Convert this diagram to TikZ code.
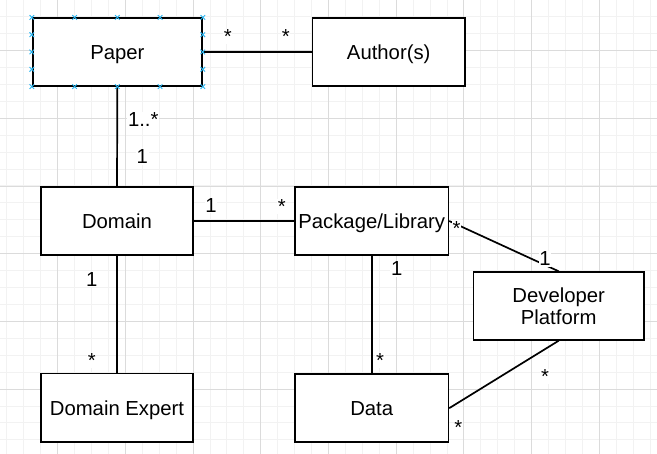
\documentclass[tikz,border=0pt]{standalone}
\usepackage{fontspec}
\setmainfont{Liberation Sans}
\usetikzlibrary{calc}
\definecolor{selblue}{RGB}{41,182,242}
\begin{document}
\begin{tikzpicture}[x=1pt,y=-1pt,
  box/.style={draw=black,line width=1.7pt,fill=white,inner sep=0pt,align=center,
    font=\fontsize{20.3}{21.7}\selectfont,text height=14.5pt,text depth=0pt},
  conn/.style={draw=black,line width=1.7pt},
  lbl/.style={fill=white,inner sep=0.8pt,anchor=base,font=\fontsize{20.3}{22}\selectfont},
  selmark/.style={draw=selblue,line width=0.9pt}
]
\useasboundingbox (0,0) rectangle (657,454);
% grid
\foreach \i in {0,...,39} {
  \draw[black!5,line width=0.9pt] ({6.8+16.93*\i},0) -- ({6.8+16.93*\i},454);
}
\foreach \i in {0,...,26} {
  \draw[black!5,line width=0.9pt] (0,{16.6+16.93*\i}) -- (657,{16.6+16.93*\i});
}
\foreach \i in {0,...,9} {
  \draw[black!14,line width=0.9pt] ({57.6+67.7*\i},0) -- ({57.6+67.7*\i},454);
}
\foreach \i in {0,...,6} {
  \draw[black!14,line width=0.9pt] (0,{50.5+67.8*\i}) -- (657,{50.5+67.8*\i});
}
% boxes
\node[box,minimum width=169.3pt,minimum height=67.4pt] (paper) at (117.35,52) {Paper};
\node[box,minimum width=152.7pt,minimum height=67.4pt] (author) at (388.7,52) {Author(s)};
\node[box,minimum width=152.6pt,minimum height=67.7pt] (domain) at (117,221) {Domain};
\node[box,minimum width=152.6pt,minimum height=68.5pt] (expert) at (117,407.8) {Domain Expert};
\node[box,minimum width=153.3pt,minimum height=67.7pt] (package) at (371.7,221) {Package/Library};
\node[box,minimum width=153.3pt,minimum height=67.7pt] (data) at (371.7,408.2) {Data};
\node[box,minimum width=170.7pt,minimum height=67.7pt,text height=36.2pt] (dev) at (558.7,306) {Developer\\Platform};
% connectors
\draw[conn] (paper.east) -- (author.west);
\draw[conn] (paper.south) -- (domain.north);
\draw[conn] (domain.east) -- (package.west);
\draw[conn] (domain.south) -- (expert.north);
\draw[conn] (package.south) -- (data.north);
\draw[conn] (package.east) -- (dev.north);
\draw[conn] (data.east) -- (dev.south);
% labels
\node[lbl] (l1) at (227.7,43.3) {*};
\node[lbl] (l2) at (285.7,43.3) {*};
\node[lbl] (l3) at (143.3,126.7) {1..*};
\node[lbl] (l4) at (142.3,164) {1};
\node[lbl] (l5) at (211,212.5) {1};
\node[lbl] (l6) at (281.7,213.3) {*};
\node[lbl] (l7) at (91.7,286.7) {1};
\node[lbl] (l8) at (91.7,367.3) {*};
\node[lbl] (l9) at (396.7,276) {1};
\node[lbl] (l10) at (380,367.6) {*};
\node[lbl] (l11) at (456.5,235.6) {*};
\node[lbl] (l12) at (545,266) {1};
\node[lbl] (l13) at (545,383.3) {*};
\node[lbl] (l14) at (458.3,434.3) {*};
% selection markers on Paper
\foreach \t in {0,0.25,0.5,0.75,1} {
  \coordinate (mt) at ($(paper.north west)!\t!(paper.north east)$);
  \coordinate (mb) at ($(paper.south west)!\t!(paper.south east)$);
  \draw[selmark] ($(mt)+(-2.3,-2.3)$) -- ($(mt)+(2.3,2.3)$) ($(mt)+(-2.3,2.3)$) -- ($(mt)+(2.3,-2.3)$);
  \draw[selmark] ($(mb)+(-2.3,-2.3)$) -- ($(mb)+(2.3,2.3)$) ($(mb)+(-2.3,2.3)$) -- ($(mb)+(2.3,-2.3)$);
}
\foreach \t in {0.25,0.5,0.75} {
  \coordinate (ml) at ($(paper.north west)!\t!(paper.south west)$);
  \coordinate (mr) at ($(paper.north east)!\t!(paper.south east)$);
  \draw[selmark] ($(ml)+(-2.3,-2.3)$) -- ($(ml)+(2.3,2.3)$) ($(ml)+(-2.3,2.3)$) -- ($(ml)+(2.3,-2.3)$);
  \draw[selmark] ($(mr)+(-2.3,-2.3)$) -- ($(mr)+(2.3,2.3)$) ($(mr)+(-2.3,2.3)$) -- ($(mr)+(2.3,-2.3)$);
}
\end{tikzpicture}
\end{document}
